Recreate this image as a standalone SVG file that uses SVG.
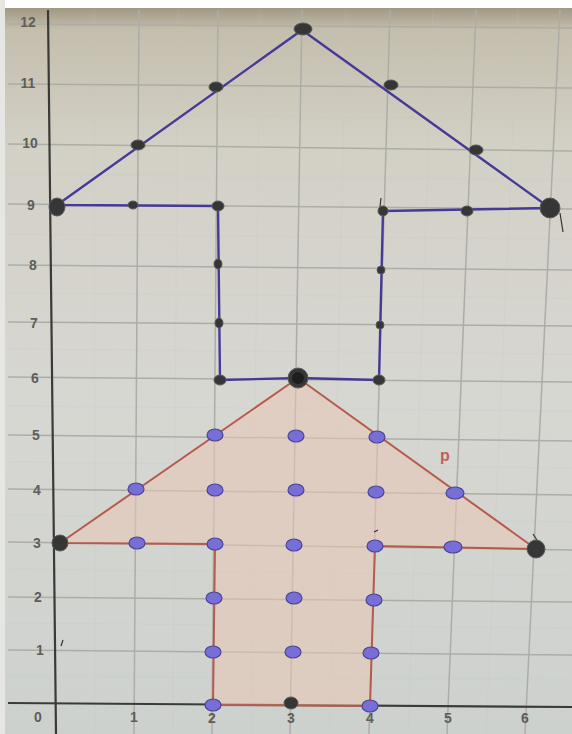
<svg xmlns="http://www.w3.org/2000/svg" width="572" height="734" viewBox="0 0 572 734">
<defs>
<linearGradient id="paper" x1="0" y1="0" x2="0" y2="1">
<stop offset="0" stop-color="#938a72"/>
<stop offset="0.04" stop-color="#c4bead"/>
<stop offset="0.2" stop-color="#d3d0c6"/>
<stop offset="0.55" stop-color="#d7d7d2"/>
<stop offset="1" stop-color="#cdd1ce"/>
</linearGradient>
<style>
.maj{stroke:#adada8;stroke-width:1.5;fill:none}
.min{stroke:#c6c6c0;stroke-width:0.6;fill:none;opacity:0.35}
.axis{stroke:#3a3a38;stroke-width:2.2;fill:none}
.lbl{font-family:"Liberation Sans",Arial,sans-serif;font-size:14px;font-weight:bold;fill:#5e5e5a;text-anchor:middle;dominant-baseline:central}
.blue{fill:#776ed8;stroke:#4b4594;stroke-width:1.2}
.blk{fill:#363636;stroke:#5a5a5a;stroke-width:1}
.pen{stroke:#463a98;stroke-width:2.4;fill:none;stroke-linejoin:round;stroke-linecap:round}
.red{stroke:#b65a4c;stroke-width:2;fill:#e9c7b4;fill-opacity:0.55;stroke-linejoin:round}
.mark{stroke:#333;stroke-width:1.2;fill:none}
</style>
</defs>
<rect x="0" y="0" width="572" height="734" fill="url(#paper)"/>
<rect x="0" y="0" width="572" height="8" fill="#ffffff"/>
<rect x="0" y="0" width="5" height="734" fill="#e6e6e2"/>
<g id="grid">
<g class="min">
<line x1="8" y1="676" x2="572" y2="680"/><line x1="8" y1="623" x2="572" y2="628"/><line x1="8" y1="569" x2="572" y2="576"/><line x1="8" y1="515" x2="572" y2="522"/><line x1="8" y1="462" x2="572" y2="468"/><line x1="8" y1="406" x2="572" y2="411"/><line x1="8" y1="349" x2="572" y2="354"/><line x1="8" y1="293" x2="572" y2="298"/><line x1="8" y1="234" x2="572" y2="239"/><line x1="8" y1="174" x2="572" y2="180"/><line x1="8" y1="114" x2="572" y2="119"/><line x1="8" y1="54" x2="572" y2="58"/>
<line x1="94" y1="10" x2="95" y2="734"/><line x1="178" y1="10" x2="173" y2="734"/><line x1="260" y1="10" x2="251" y2="734"/><line x1="346" y1="10" x2="330" y2="734"/><line x1="433" y1="10" x2="408" y2="734"/><line x1="518" y1="10" x2="486" y2="734"/>
</g>
<g class="maj">
<line x1="8" y1="650" x2="572" y2="655"/><line x1="8" y1="597" x2="572" y2="602"/><line x1="8" y1="542" x2="572" y2="550"/><line x1="8" y1="489" x2="572" y2="495"/><line x1="8" y1="435" x2="572" y2="441"/><line x1="8" y1="377" x2="572" y2="382"/><line x1="8" y1="322" x2="572" y2="326"/><line x1="8" y1="265" x2="572" y2="270"/><line x1="8" y1="204" x2="572" y2="209"/><line x1="8" y1="144" x2="572" y2="151"/><line x1="8" y1="84" x2="572" y2="88"/><line x1="8" y1="24" x2="572" y2="28"/>
<line x1="139" y1="10" x2="134" y2="734"/><line x1="218" y1="10" x2="212" y2="734"/><line x1="302" y1="10" x2="290" y2="734"/><line x1="390" y1="10" x2="369" y2="734"/><line x1="476" y1="10" x2="447" y2="734"/><line x1="560" y1="10" x2="525" y2="734"/>
</g>
<line class="axis" x1="48" y1="10" x2="56" y2="734"/>
<line class="axis" x1="8" y1="703" x2="572" y2="707"/>
</g>
<g id="labels">
<text class="lbl" x="28" y="22">12</text><text class="lbl" x="28" y="83">11</text><text class="lbl" x="30" y="143">10</text><text class="lbl" x="31" y="205">9</text><text class="lbl" x="33" y="265">8</text><text class="lbl" x="34" y="323">7</text><text class="lbl" x="35" y="378">6</text><text class="lbl" x="36" y="435">5</text><text class="lbl" x="37" y="490">4</text><text class="lbl" x="37" y="543">3</text><text class="lbl" x="38" y="597">2</text><text class="lbl" x="40" y="650">1</text>
<text class="lbl" x="38" y="717">0</text><text class="lbl" x="134" y="717">1</text><text class="lbl" x="212" y="718">2</text><text class="lbl" x="291" y="718">3</text><text class="lbl" x="370" y="718">4</text><text class="lbl" x="448" y="718">5</text><text class="lbl" x="525" y="718">6</text>
<text x="445" y="455" style="font-family:'Liberation Sans',Arial,sans-serif;font-size:16px;font-weight:bold;fill:#c0605a;text-anchor:middle;dominant-baseline:central">p</text>
</g>
<g id="connectors">
<polygon id="shape-p" class="red" points="60,543 298,378 536,549 375,546 370,706 213,705 215,544"/>
<path id="shape-upper" class="pen" d="M57,205 L302,30 L550,208 L383,211 L379,380 L298,378 L220,380 L218,206 Z"/>
<path class="mark" d="M560,213 L563,232 M537,540 L533,534 M61,646 L63,640 M380,207 L381,198 M374,532 L378,530"/>
</g>
<g id="dots-p">
<ellipse id="p-1-3" class="blue" cx="137" cy="543" rx="8" ry="6"/>
<ellipse id="p-1-4" class="blue" cx="136" cy="489" rx="8" ry="6"/>
<ellipse id="p-2-5" class="blue" cx="215" cy="435" rx="8" ry="6"/>
<ellipse id="p-2-4" class="blue" cx="215" cy="490" rx="8" ry="6"/>
<ellipse id="p-2-3" class="blue" cx="215" cy="544" rx="8" ry="6"/>
<ellipse id="p-2-2" class="blue" cx="214" cy="598" rx="8" ry="6"/>
<ellipse id="p-2-1" class="blue" cx="213" cy="652" rx="8" ry="6"/>
<ellipse id="p-2-0" class="blue" cx="213" cy="705" rx="8" ry="6"/>
<ellipse id="p-3-5" class="blue" cx="296" cy="436" rx="8" ry="6"/>
<ellipse id="p-3-4" class="blue" cx="296" cy="490" rx="8" ry="6"/>
<ellipse id="p-3-3" class="blue" cx="294" cy="545" rx="8" ry="6"/>
<ellipse id="p-3-2" class="blue" cx="294" cy="598" rx="8" ry="6"/>
<ellipse id="p-3-1" class="blue" cx="293" cy="652" rx="8" ry="6"/>
<ellipse id="p-3-0" class="blk" cx="291" cy="703" rx="7" ry="6"/>
<ellipse id="p-4-5" class="blue" cx="377" cy="437" rx="8" ry="6"/>
<ellipse id="p-4-4" class="blue" cx="376" cy="492" rx="8" ry="6"/>
<ellipse id="p-4-3" class="blue" cx="375" cy="546" rx="8" ry="6"/>
<ellipse id="p-4-2" class="blue" cx="374" cy="600" rx="8" ry="6"/>
<ellipse id="p-4-1" class="blue" cx="371" cy="653" rx="8" ry="6"/>
<ellipse id="p-4-0" class="blue" cx="370" cy="706" rx="8" ry="6"/>
<ellipse id="p-5-4" class="blue" cx="455" cy="493" rx="9" ry="6"/>
<ellipse id="p-5-3" class="blue" cx="453" cy="547" rx="9" ry="6"/>
<circle id="p-0-3" class="blk" cx="60" cy="543" r="8"/>
<circle id="p-6-3" class="blk" cx="536" cy="549" r="9"/>
</g>
<g id="dots-upper">
<g id="u-3-6"><circle class="blk" cx="298" cy="378" r="10"/><circle cx="298" cy="378" r="6" fill="#1e1e1e"/></g>
<ellipse id="u-0-9" class="blk" cx="57" cy="207" rx="8" ry="9"/>
<ellipse id="u-1-9" class="blk" cx="133" cy="205" rx="5" ry="4"/>
<ellipse id="u-1-10" class="blk" cx="138" cy="145" rx="7" ry="5"/>
<ellipse id="u-2-11" class="blk" cx="216" cy="87" rx="7" ry="5"/>
<ellipse id="u-3-12" class="blk" cx="303" cy="29" rx="9" ry="6"/>
<ellipse id="u-4-11" class="blk" cx="391" cy="85" rx="7" ry="5"/>
<ellipse id="u-5-10" class="blk" cx="476" cy="150" rx="7" ry="5"/>
<circle id="u-6-9" class="blk" cx="550" cy="208" r="10"/>
<ellipse id="u-5-9" class="blk" cx="467" cy="211" rx="6" ry="5"/>
<ellipse id="u-4-9" class="blk" cx="383" cy="211" rx="5" ry="5"/>
<ellipse id="u-4-8" class="blk" cx="381" cy="270" rx="4" ry="4"/>
<ellipse id="u-4-7" class="blk" cx="380" cy="325" rx="4" ry="4"/>
<ellipse id="u-4-6" class="blk" cx="379" cy="380" rx="6" ry="5"/>
<ellipse id="u-2-9" class="blk" cx="218" cy="206" rx="6" ry="5"/>
<ellipse id="u-2-8" class="blk" cx="218" cy="264" rx="4" ry="5"/>
<ellipse id="u-2-7" class="blk" cx="219" cy="323" rx="4" ry="5"/>
<ellipse id="u-2-6" class="blk" cx="220" cy="380" rx="6" ry="5"/>
</g>
</svg>
